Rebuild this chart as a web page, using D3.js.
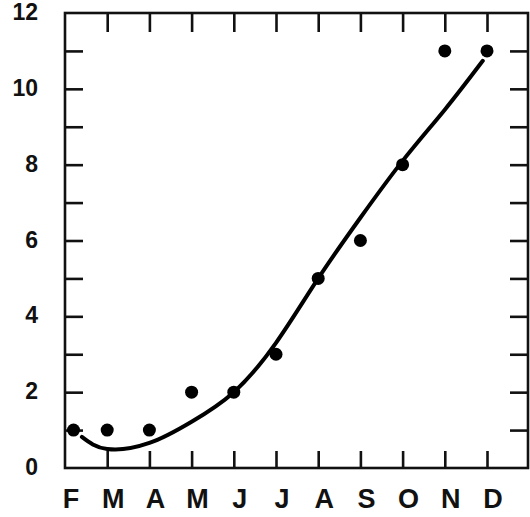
<!DOCTYPE html>
<html>
<head>
<meta charset="utf-8">
<script src="https://cdn.jsdelivr.net/npm/d3@7"></script>
<style>
  html, body { margin: 0; padding: 0; background: #fff; }
  svg { display: block; }
</style>
</head>
<body>
<script>
// month labels along the bottom (F .. D)
const months = ["F", "M", "A", "M", "J", "J", "A", "S", "O", "N", "D"];
// observed counts, one per month
const counts = [1, 1, 1, 2, 2, 3, 5, 6, 8, 11, 11];
// hand-fitted smooth curve: month index and value
const fitMonth = [0.4, 1, 2, 3, 4, 5, 6, 7, 8, 9, 9.9];
const fitValue = [0.82, 0.5, 0.66, 1.22, 2.0, 3.3, 5.0, 6.6, 8.1, 9.45, 10.74];
// value axis labels
const yLabels = [0, 2, 4, 6, 8, 10, 12];

const width = 530;
const height = 517;
const frame = { left: 65, right: 528, top: 13, bottom: 468 };

const svg = d3.select("body")
  .append("svg")
  .attr("width", width)
  .attr("height", height);

svg.append("rect")
  .attr("width", width)
  .attr("height", height)
  .attr("fill", "#fff");

// scales
const x = d3.scaleLinear()
  .domain([0, months.length - 1])
  .range([frame.left, 487]);

const y = d3.scaleLinear()
  .domain([0, 12])
  .range([frame.bottom, frame.top]);

const inner = d3.range(1, 12);          // minor ticks 1..11 on both sides
const monthTicks = d3.range(1, months.length);

// axes with inward ticks, no labels
function styleAxis(g) {
  g.select(".domain").remove();
  g.selectAll(".tick line")
    .attr("stroke", "#111")
    .attr("stroke-width", 2.6);
  g.selectAll(".tick text").remove();
}

svg.append("g")
  .attr("transform", `translate(${frame.left},0)`)
  .call(d3.axisLeft(y).tickValues(inner).tickSize(-18))
  .call(styleAxis);

svg.append("g")
  .attr("transform", `translate(${frame.right},0)`)
  .call(d3.axisRight(y).tickValues(inner).tickSize(-18))
  .call(styleAxis);

svg.append("g")
  .attr("transform", `translate(0,${frame.bottom})`)
  .call(d3.axisBottom(x).tickValues(monthTicks).tickSize(-17))
  .call(styleAxis);

svg.append("g")
  .attr("transform", `translate(0,${frame.top})`)
  .call(d3.axisTop(x).tickValues(monthTicks).tickSize(-19))
  .call(styleAxis);

// frame
svg.append("rect")
  .attr("x", frame.left)
  .attr("y", frame.top)
  .attr("width", frame.right - frame.left)
  .attr("height", frame.bottom - frame.top)
  .attr("fill", "none")
  .attr("stroke", "#111")
  .attr("stroke-width", 2.6);

// y labels
svg.append("g")
  .selectAll("text")
  .data(yLabels)
  .enter()
  .append("text")
  .attr("x", 38)
  .attr("y", d => y(d) - 1)
  .attr("text-anchor", "end")
  .attr("dominant-baseline", "central")
  .attr("font-family", "Liberation Sans, sans-serif")
  .attr("font-weight", "bold")
  .attr("font-size", "23px")
  .attr("fill", "#111")
  .text(d => d);

// month labels
svg.append("g")
  .selectAll("text")
  .data(months)
  .enter()
  .append("text")
  .attr("x", (d, i) => x(i) + 6)
  .attr("y", 508)
  .attr("text-anchor", "middle")
  .attr("font-family", "Liberation Sans, sans-serif")
  .attr("font-weight", "bold")
  .attr("font-size", "27px")
  .attr("fill", "#111")
  .text(d => d);

// fitted curve
const fit = fitMonth.map((m, i) => [m, fitValue[i]]);
const line = d3.line()
  .x(d => x(d[0]))
  .y(d => y(d[1]))
  .curve(d3.curveNatural);

svg.append("path")
  .datum(fit)
  .attr("d", line)
  .attr("fill", "none")
  .attr("stroke", "#000")
  .attr("stroke-width", 4)
  .attr("stroke-linecap", "round");

// observed points (first one sits just inside the left frame)
const r = 6.5;
svg.append("g")
  .selectAll("circle")
  .data(counts)
  .enter()
  .append("circle")
  .attr("cx", (d, i) => Math.max(x(i), frame.left + r + 2))
  .attr("cy", d => y(d))
  .attr("r", r)
  .attr("fill", "#000");
</script>
</body>
</html>
